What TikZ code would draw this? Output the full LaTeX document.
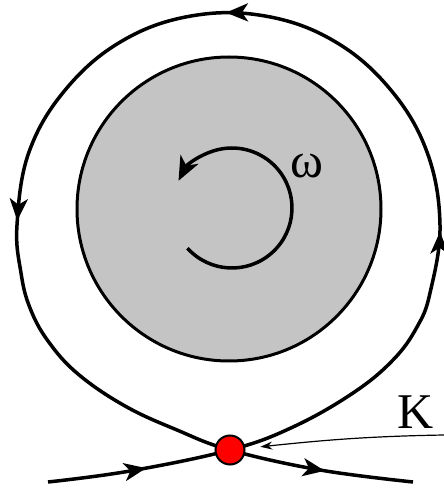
\documentclass[tikz,border=0pt]{standalone}
\usepackage{fontspec}
\setmainfont{Liberation Serif}
\usetikzlibrary{arrows.meta, decorations.markings}
\definecolor{discgray}{RGB}{196,196,196}

\begin{document}
\begin{tikzpicture}[
  x=1pt, y=1pt,
  head/.tip={Stealth[length=22pt, width=18pt, inset=6pt]},
  disc/.style={draw, line width=3pt, fill=discgray},
  spin/.style={line width=3.5pt, -{Stealth[length=24pt, width=20pt, inset=7pt]}},
  orbit/.style={line width=3.5pt, postaction={decorate},
    decoration={markings,
      mark=at position 0.058 with {\arrow{head}},
      mark=at position 0.300 with {\arrow{head}},
      mark=at position 0.500 with {\arrow{head}},
      mark=at position 0.691 with {\arrow{head}},
      mark=at position 0.948 with {\arrow{head}}}},
  point/.style={circle, draw, line width=2pt, fill=red, minimum size=29pt, inner sep=0pt},
  pointer/.style={line width=1.2pt, -{Stealth[length=12pt, width=8pt, inset=4pt]}},
  sym/.style={font=\fontspec{Liberation Serif}\fontsize{50}{50}\selectfont, inner sep=0pt}
 ]
\useasboundingbox (0,0) rectangle (444,488);

\draw[disc] (229,279) circle (152);
\draw[spin] ([shift={(222:60)}]232,280) arc[start angle=222, end angle=513, radius=60];
\node[sym] (omega) at (307,322) {ω};

\draw[orbit] plot[smooth, tension=0.65] coordinates {
  (48,6) (130,17) (230,38) (293,61) (353,95) (393,128) (417,161) (430,195)
  (440,263) (427,336) (390,399) (334,447) (265,472) (191,472) (122,447)
  (66,399) (29,336) (17,263) (21,215) (30,180) (48,147) (78,114) (125,82)
  (177,58) (230,38) (320,18) (413,6)};

\node[point] (dot) at (230,38) {};
\node[sym] (K) at (416,76) {K};
\coordinate (kfrom) at (444,53);
\draw[pointer, shorten >=15pt] (kfrom) to[out=181, in=6] (dot);
\end{tikzpicture}
\end{document}
